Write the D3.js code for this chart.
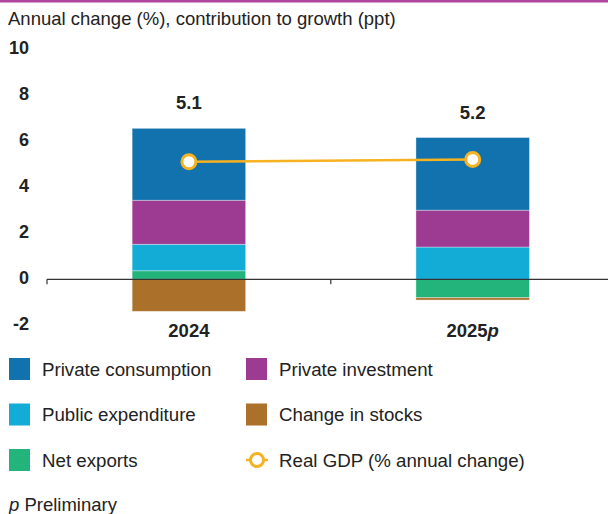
<!DOCTYPE html>
<html>
<head>
<meta charset="utf-8">
<script src="https://cdn.jsdelivr.net/npm/d3@7"></script>
<style>
  html, body { margin: 0; padding: 0; background: #fff; }
  svg { display: block; }
  text { font-family: "Liberation Sans", Arial, sans-serif; fill: #222; }
</style>
</head>
<body>
<svg id="chart" width="608" height="514"></svg>
<script>
// Contributions to growth (ppt) by year
const years = ["2024", "2025"];
const yearSuffix = ["", "p"];
const privateConsumption = [3.12, 3.15];
const privateInvestment = [1.91, 1.60];
const publicExpenditure = [1.15, 1.40];
const netExports = [0.37, -0.80];
const changeInStocks = [-1.39, -0.10];
const realGDP = [5.1, 5.2];
const yTicks = [-2, 0, 2, 4, 6, 8, 10];

const seriesNames = ["Net exports", "Change in stocks", "Public expenditure", "Private investment", "Private consumption"];
const seriesValues = [netExports, changeInStocks, publicExpenditure, privateInvestment, privateConsumption];
const colors = {
  "Private consumption": "#1272ad",
  "Private investment": "#9d3a92",
  "Public expenditure": "#12acd6",
  "Change in stocks": "#ab712b",
  "Net exports": "#22b47a"
};
const lineColor = "#f6b221";

const svg = d3.select("#chart");
const W = 608;

// top rule
svg.append("rect").attr("x", 0).attr("y", 0).attr("width", W).attr("height", 2.5).attr("fill", "#b0459d");

// title
svg.append("text").attr("x", 8).attr("y", 25).attr("font-size", 18.5).text("Annual change (%), contribution to growth (ppt)");

const y = d3.scaleLinear().domain([-2, 10]).range([325.4, 48.8]);
const x = d3.scaleBand().domain(years).range([47, 614.6]).paddingInner(0.6).paddingOuter(0.3);

// y tick labels
svg.append("g").selectAll("text").data(yTicks).join("text")
  .attr("x", 29).attr("y", d => y(d) - 1.5).attr("dy", "0.36em")
  .attr("text-anchor", "end").attr("font-size", 18).attr("font-weight", "bold")
  .text(d => d);

// stacked data
const table = years.map((yr, i) => {
  const row = { year: yr };
  seriesNames.forEach((n, k) => row[n] = seriesValues[k][i]);
  return row;
});
const stacked = d3.stack().keys(seriesNames).offset(d3.stackOffsetDiverging)(table);

svg.append("g").selectAll("g").data(stacked).join("g")
  .attr("fill", d => colors[d.key])
  .selectAll("rect").data(d => d).join("rect")
  .attr("x", d => x(d.data.year))
  .attr("width", x.bandwidth())
  .attr("y", d => y(Math.max(d[0], d[1])))
  .attr("height", d => Math.abs(y(d[0]) - y(d[1])))
  .attr("stroke", "rgba(255,255,255,0.45)").attr("stroke-width", 0.8);

// zero axis
const axis = svg.append("g");
axis.append("line").attr("x1", 47).attr("x2", W).attr("y1", y(0)).attr("y2", y(0))
  .attr("stroke", "#333").attr("stroke-width", 1.2);
[47, x.step() + 47].forEach(px => {
  axis.append("line").attr("x1", px).attr("x2", px).attr("y1", y(0)).attr("y2", y(0) + 5)
    .attr("stroke", "#333").attr("stroke-width", 1.2);
});

// category labels
const cat = svg.append("g").selectAll("text").data(years).join("text")
  .attr("x", d => x(d) + x.bandwidth() / 2).attr("y", 337)
  .attr("text-anchor", "middle").attr("font-size", 18.5).attr("font-weight", "bold");
cat.append("tspan").text(d => d);
cat.append("tspan").attr("font-style", "italic").text((d, i) => yearSuffix[i]);

// bar totals of positive contributions for label placement
const posTop = years.map((yr, i) => d3.sum(seriesValues, s => Math.max(0, s[i])));

// GDP line and markers
const cx = d => x(d) + x.bandwidth() / 2;
svg.append("path")
  .datum(years.map((yr, i) => [cx(yr), y(realGDP[i])]))
  .attr("fill", "none").attr("stroke", lineColor).attr("stroke-width", 2.5)
  .attr("d", d3.line());
svg.append("g").selectAll("circle").data(years).join("circle")
  .attr("cx", d => cx(d)).attr("cy", (d, i) => y(realGDP[i])).attr("r", 7)
  .attr("fill", "#fff").attr("stroke", lineColor).attr("stroke-width", 3);

// GDP value labels
svg.append("g").selectAll("text").data(years).join("text")
  .attr("x", d => cx(d)).attr("y", (d, i) => y(posTop[i]) - 19)
  .attr("text-anchor", "middle").attr("font-size", 18.5).attr("font-weight", "bold")
  .text((d, i) => realGDP[i].toFixed(1));

// legend
const legendItems = [
  { name: "Private consumption", col: 0, row: 0 },
  { name: "Private investment", col: 1, row: 0 },
  { name: "Public expenditure", col: 0, row: 1 },
  { name: "Change in stocks", col: 1, row: 1 },
  { name: "Net exports", col: 0, row: 2 },
  { name: "Real GDP (% annual change)", col: 1, row: 2, line: true }
];
const colX = [9, 246];
const rowY = [369, 414.5, 460];
const lg = svg.append("g").selectAll("g").data(legendItems).join("g")
  .attr("transform", d => `translate(${colX[d.col]},${rowY[d.row]})`);
lg.filter(d => !d.line).append("rect")
  .attr("x", 0).attr("y", -11).attr("width", 21).attr("height", 22)
  .attr("fill", d => colors[d.name]);
const gl = lg.filter(d => d.line);
gl.append("line").attr("x1", 0).attr("x2", 22).attr("y1", 0).attr("y2", 0)
  .attr("stroke", lineColor).attr("stroke-width", 2.5);
gl.append("circle").attr("cx", 11).attr("cy", 0).attr("r", 6.5)
  .attr("fill", "#fff").attr("stroke", lineColor).attr("stroke-width", 3);
lg.append("text").attr("x", 33).attr("y", 0).attr("dy", "0.36em")
  .attr("font-size", 18.7).text(d => d.name);

// footnote
const fn = svg.append("text").attr("x", 9).attr("y", 511).attr("font-size", 18.5);
fn.append("tspan").attr("font-style", "italic").text("p");
fn.append("tspan").text(" Preliminary");
</script>
</body>
</html>
